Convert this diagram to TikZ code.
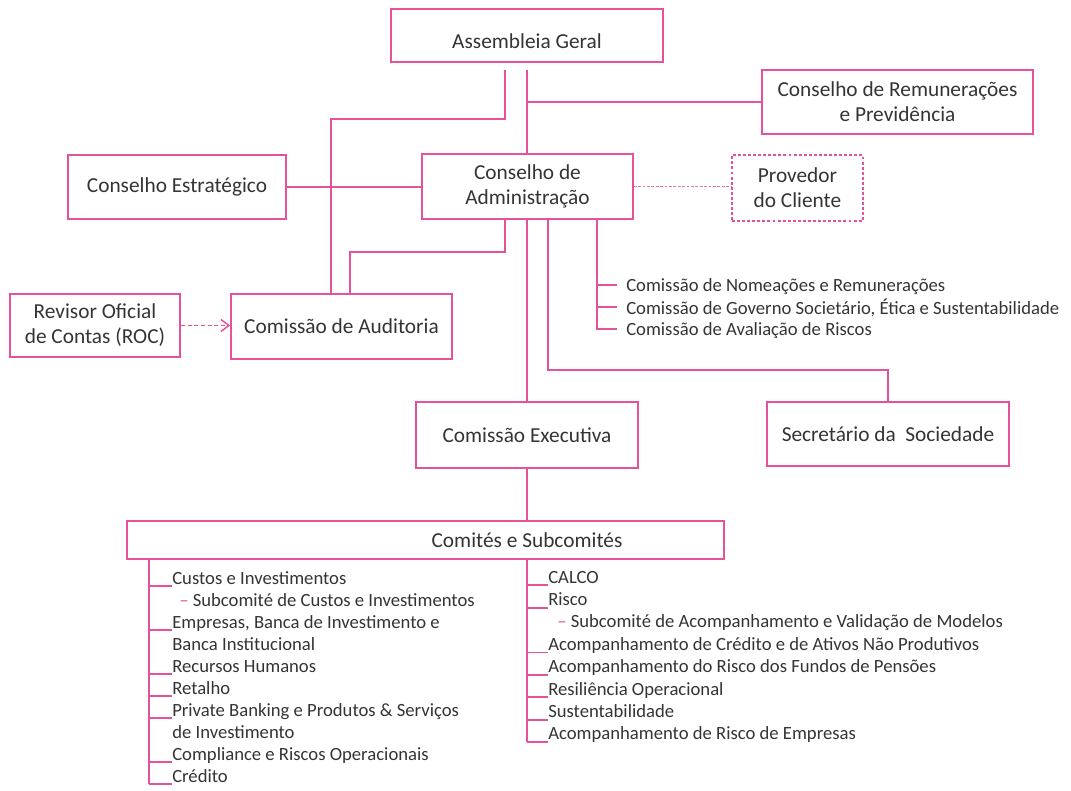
\documentclass[tikz,border=0pt]{standalone}
\usepackage{fontspec}
\setmainfont{Carlito}
\usetikzlibrary{positioning, arrows.meta, calc}

\definecolor{bcppink}{RGB}{228,82,155}
\definecolor{bcpgray}{RGB}{52,52,52}

% Size of a box, given in pixels of the reference
\tikzset{
    boxsize/.style n args={2}{
        minimum width=#1*0.75pt,
        minimum height=#2*0.75pt
    }
}

\begin{document}
\begin{tikzpicture}[
    x=0.75pt, y=-0.75pt, % one unit is one pixel, y runs downwards
    >={Straight Barb[length=6pt, width=9pt]},
    % Styles
    box/.style={ % Governing body
        rectangle,
        draw=bcppink,
        line width=1.3pt,
        inner sep=0pt,
        align=center,
        text=bcpgray,
        font=\fontsize{16}{18.75}\selectfont
    },
    dashbox/.style={ % Body outside the hierarchy
        box,
        dash pattern=on 2.2pt off 1.6pt
    },
    link/.style={
        draw=bcppink,
        line width=1.3pt
    },
    dotlink/.style={
        draw=bcppink!80,
        line width=1.3pt,
        dash pattern=on 2pt off 1.3pt
    },
    dasharrow/.style={
        ->,
        draw=bcppink,
        line width=1.1pt,
        dash pattern=on 3pt off 2pt
    },
    entry/.style={ % One line of a list
        anchor=base west,
        inner sep=0pt,
        text depth=0pt,
        outer ysep=1.7pt,
        text=bcpgray,
        font=\fontsize{14}{16.5}\selectfont
    }
]
    \useasboundingbox (0,0) rectangle (1071,790);

    % Bodies
    \node[box, boxsize={272}{53}] (ag) at (527,35.5) {\raisebox{-4pt}[\height][\depth]{Assembleia Geral}};
    \node[box, boxsize={271}{64}] (crp) at (897.5,102) {Conselho de Remunerações\\e Previdência};
    \node[box, boxsize={211}{65}] (cda) at (527.5,186.5) {Conselho de\\Administração};
    \node[box, boxsize={218}{64}] (ce) at (177,187) {Conselho Estratégico};
    \node[dashbox, boxsize={131}{66}] (prov) at (797.5,188) {Provedor\\do Cliente};
    \node[box, boxsize={170}{63}] (roc) at (95,325.5) {Revisor Oficial\\de Contas (ROC)};
    \node[box, boxsize={221}{65}] (ca) at (341.5,326.5) {Comissão de Auditoria};
    \node[box, boxsize={222}{66}] (cex) at (527,435) {Comissão Executiva};
    \node[box, boxsize={242}{64}] (sds) at (888,434) {Secretário da\ \ Sociedade};
    \node[box, boxsize={597}{38}] (com) at (425.5,540) {};
    \node[box, draw=none] (comtxt) at (com.center -| cex) {Comités e Subcomités};

    % Assembleia Geral
    \coordinate (agl) at ($(ag.south)+(-22,7)$);
    \coordinate (agr) at ($(ag.south)+(0,7)$);
    \draw[link] (agl) |- (331,119) -- (ca.north -| 331,0);
    \draw[link] (agr) -- (agr |- cda.north);
    \draw[link] (agr |- crp.west) -- (crp.west);

    % Conselho de Administracao
    \draw[link] (ce.east) -- (ce.east -| cda.west);
    \draw[dotlink] (cda.east) -- (cda.east -| prov.west);
    \draw[link] (cda.south -| 505,0) |- (350,252) -- (ca.north -| 350,0);
    \draw[link] (cda.south -| cex.north) -- (cex.north);
    \draw[link] (cda.south -| 548,0) |- (sds.north |- 0,370) -- (sds.north);
    \draw[dasharrow] (roc.east) -- (roc.east -| ca.west);

    % Comissoes of the board
    \foreach \y/\txt [count=\i] in {285/Comissão de Nomeações e Remunerações, 307/{Comissão de Governo Societário, Ética e Sustentabilidade}, 329/Comissão de Avaliação de Riscos}
        \node[entry, anchor=west, inner xsep=6.75pt, outer ysep=0pt] (nr\i) at (617,\y) {\txt};
    \foreach \i in {1,2}
        \draw[link] (nr\i.west) -- (nr\i.west -| 597,0);
    \draw[link] (cda.south -| 597,0) |- (nr3.west);

    % Comissao Executiva
    \draw[link] (cex.south) -- (cex.south |- com.north);

    % Left list of committees
    \coordinate (ltop) at (com.south -| 149,0);
    \foreach \k/\txt in {0/Custos e Investimentos, 2/{Empresas, Banca de Investimento e}, 4/Recursos Humanos, 5/Retalho, 6/Private Banking e Produtos \& Serviços, 8/Compliance e Riscos Operacionais, 9/Crédito}
    {
        \node[entry] (l\k) at (172,584+22*\k) {\txt};
        \draw[link] (l\k.south west) -- (l\k.south west -| ltop);
    }
    \node[entry] (l1) at (179,584+22) {\textcolor{bcppink}{–} Subcomité de Custos e Investimentos};
    \node[entry] (l3) at (172,584+22*3) {Banca Institucional};
    \node[entry] (l7) at (172,584+22*7) {de Investimento};
    \draw[link] (ltop) -- (ltop |- l9.south west);

    % Right list of committees
    \coordinate (rtop) at (com.south -| cex.south);
    \foreach \k/\txt in {0/CALCO, 1/Risco, 3/Acompanhamento de Crédito e de Ativos Não Produtivos, 4/Acompanhamento do Risco dos Fundos de Pensões, 5/Resiliência Operacional, 6/Sustentabilidade, 7/Acompanhamento de Risco de Empresas}
    {
        \node[entry] (r\k) at (548,583+22.4*\k) {\txt};
        \draw[link] (r\k.south west) -- (r\k.south west -| rtop);
    }
    \node[entry] (r2) at (557,583+22.4*2) {\textcolor{bcppink}{–} Subcomité de Acompanhamento e Validação de Modelos};
    \draw[link] (rtop) -- (rtop |- r7.south west);
\end{tikzpicture}
\end{document}
